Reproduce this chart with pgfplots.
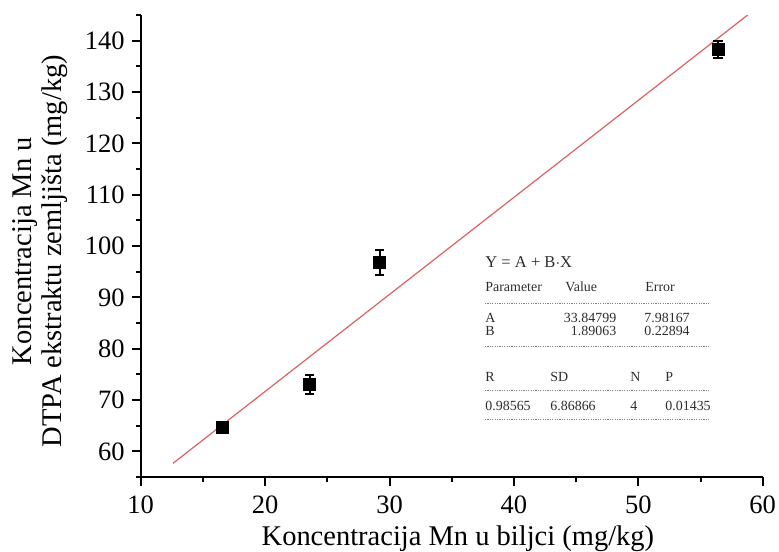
\documentclass[border=0pt]{standalone}
\usepackage{fontspec}
\setmainfont{Liberation Serif}
\usepackage{pgfplots}
\pgfplotsset{compat=1.18}

\definecolor{fitred}{RGB}{222,96,96}
\definecolor{boxtext}{RGB}{45,45,45}

% one pixel of the reference = 0.5bp
\begin{document}
\begin{tikzpicture}
\useasboundingbox (0,0) rectangle (389.5bp,276bp);
\begin{axis}[
    at={(70.35bp,37.5bp)}, anchor=south west,
    scale only axis, width=311bp, height=231bp,
    xmin=10, xmax=60, ymin=55, ymax=145,
    axis x line*=bottom, axis y line*=left,
    axis line style={line width=1bp,-},
    xtick={10,20,...,60}, ytick={60,70,...,140},
    minor xtick={15,25,...,55}, minor ytick={55,65,...,145},
    tick align=outside,
    major tick length=4.5bp, minor tick length=2.5bp,
    every tick/.style={black,line width=1bp},
    /pgf/number format/assume math mode=true,
    ticklabel style={font=\fontsize{13.3}{14}\selectfont},
    xticklabel style={yshift=-1.5bp},
    xlabel={Koncentracija Mn u biljci (mg/kg)},
    xlabel style={at={(rel axis cs:0.51,0)}, anchor=base, yshift=-34bp,
        font=\fontsize{14.3}{15}\selectfont},
    ylabel={Koncentracija Mn u\\DTPA ekstraktu zemljišta (mg/kg)},
    % the label is turned by 90 degrees, so its yshift moves it left
    ylabel style={at={(rel axis cs:0,0.489)}, anchor=center, yshift=50.35bp,
        align=center, font=\fontsize{14.3}{15}\selectfont},
]
% fitted line Y = 33.84799 + 1.89063 X, end points
\addplot[fitred, line width=0.6bp] coordinates {(12.6,57.67) (58.8,145.02)};
\addplot[only marks, mark=square*, mark size=3bp, black,
    error bars/.cd, y dir=both, y explicit,
    error bar style={line width=1bp},
    error mark options={rotate=90, mark size=2.3bp, line width=1bp}]
    table[x=x, y=y, y error=e] {
    x    y     e
    16.6 64.6  1.0
    23.6 73.0  1.9
    29.2 96.8  2.4
    56.4 138.3 1.6
};
\end{axis}

% fit report box, in pixel coordinates of the reference
\begin{scope}[x=0.5bp, y=-0.5bp, shift={(0,276bp)}, boxtext,
    every node/.style={inner sep=0pt, font=\fontsize{7}{8}\selectfont}]
\node[anchor=base west, font=\fontsize{8.3}{9}\selectfont] at (485,268) {Y = A + B$\cdot$X};
\node[anchor=base west] at (485,292) {Parameter};
\node[anchor=base west] at (565,292) {Value};
\node[anchor=base west] at (645,292) {Error};
\node[anchor=base west] at (485,323) {A};
\node[anchor=base east] at (616.7,323) {33.84799};
\node[anchor=base west] at (644,323) {7.98167};
\node[anchor=base west] at (485,335.6) {B};
\node[anchor=base east] at (616.7,335.6) {1.89063};
\node[anchor=base west] at (644,335.6) {0.22894};
\node[anchor=base west] at (485,381.3) {R};
\node[anchor=base west] at (550,381.3) {SD};
\node[anchor=base west] at (630,381.3) {N};
\node[anchor=base west] at (665,381.3) {P};
\node[anchor=base west] at (485,410.6) {0.98565};
\node[anchor=base west] at (550,410.6) {6.86866};
\node[anchor=base west] at (630,410.6) {4};
\node[anchor=base west] at (665,410.6) {0.01435};
\foreach \yy in {303.3,346.7,390.7,419.3}
    \draw[gray, line width=0.4bp, dash pattern=on 0.6bp off 0.6bp] (485,\yy) -- (710,\yy);
\end{scope}
\end{tikzpicture}
\end{document}
